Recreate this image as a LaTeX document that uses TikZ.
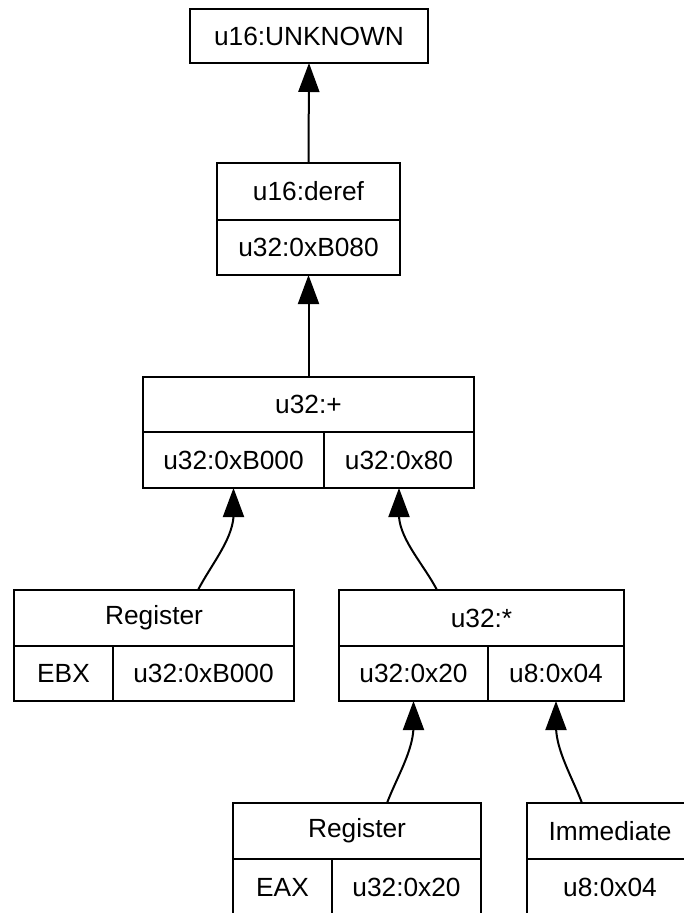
\documentclass[tikz,border=0pt]{standalone}
\usepackage{fontspec}
\setmainfont{Liberation Sans}
\usetikzlibrary{arrows.meta}

\begin{document}
\begin{tikzpicture}[
    x=1pt, y=-1pt,
    cell/.style={draw, line width=2pt, inner sep=0pt, outer sep=0pt,
                 font=\fontsize{26.3}{30}\selectfont, anchor=center},
    link/.style={line width=2pt, -{Triangle[length=29pt,width=21pt]}},
  ]
  \useasboundingbox (0,0) rectangle (684,913);
  \clip (0,0) rectangle (684,913);

  % result node
  \node[cell, minimum width=238pt, minimum height=54pt] (res) at (309,36) {u16:UNKNOWN};

  % dereference
  \node[cell, minimum width=183pt, minimum height=57pt] (deref) at (308.5,191.5) {u16:deref};
  \node[cell, minimum width=183pt, minimum height=55pt] (derefv) at (308.5,247.5) {u32:0xB080};

  % addition
  \node[cell, minimum width=331pt, minimum height=55pt] (add) at (308.5,404.5) {u32:+};
  \node[cell, minimum width=181pt, minimum height=56pt] (addl) at (233.5,460) {u32:0xB000};
  \node[cell, minimum width=150pt, minimum height=56pt] (addr) at (399,460) {u32:0x80};

  % register EBX
  \node[cell, minimum width=280pt, minimum height=56pt] (ebx) at (154,618) {Register};
  \node[cell, minimum width=99pt, minimum height=55pt] (ebxn) at (63.5,673.5) {EBX};
  \node[cell, minimum width=181pt, minimum height=55pt] (ebxv) at (203.5,673.5) {u32:0xB000};

  % multiplication
  \node[cell, minimum width=285pt, minimum height=56pt] (mul) at (481.5,618) {u32:*};
  \node[cell, minimum width=149pt, minimum height=55pt] (mull) at (413.5,673.5) {u32:0x20};
  \node[cell, minimum width=136pt, minimum height=55pt] (mulr) at (556,673.5) {u8:0x04};

  % register EAX
  \node[cell, minimum width=248pt, minimum height=56pt] (eax) at (357,831) {Register};
  \node[cell, minimum width=99pt, minimum height=57pt] (eaxn) at (282.5,887.5) {EAX};
  \node[cell, minimum width=149pt, minimum height=57pt] (eaxv) at (406.5,887.5) {u32:0x20};

  % immediate
  \node[cell, minimum width=166pt, minimum height=56pt] (imm) at (610,831) {Immediate};
  \node[cell, minimum width=166pt, minimum height=57pt] (immv) at (610,887.5) {u8:0x04};

  % data flow: each curved edge bends into a short straight run under its tip
  \draw[link] (deref.north) -- (res.south);
  \draw[link] (add.north) -- (derefv.south);
  \draw[link] ([xshift=44pt]ebx.north) .. controls +(13,-25) and +(-2,24) .. ([yshift=-29pt]addl.south) -- (addl.south);
  \draw[link] ([xshift=-44.5pt]mul.north) .. controls +(-13,-25) and +(2,24) .. ([yshift=-29pt]addr.south) -- (addr.south);
  \draw[link] ([xshift=30pt]eax.north) .. controls +(10,-26) and +(-1,24) .. ([yshift=-27pt]mull.south) -- (mull.south);
  \draw[link] ([xshift=-28pt]imm.north) .. controls +(-10,-26) and +(1,24) .. ([yshift=-27pt]mulr.south) -- (mulr.south);
\end{tikzpicture}
\end{document}
